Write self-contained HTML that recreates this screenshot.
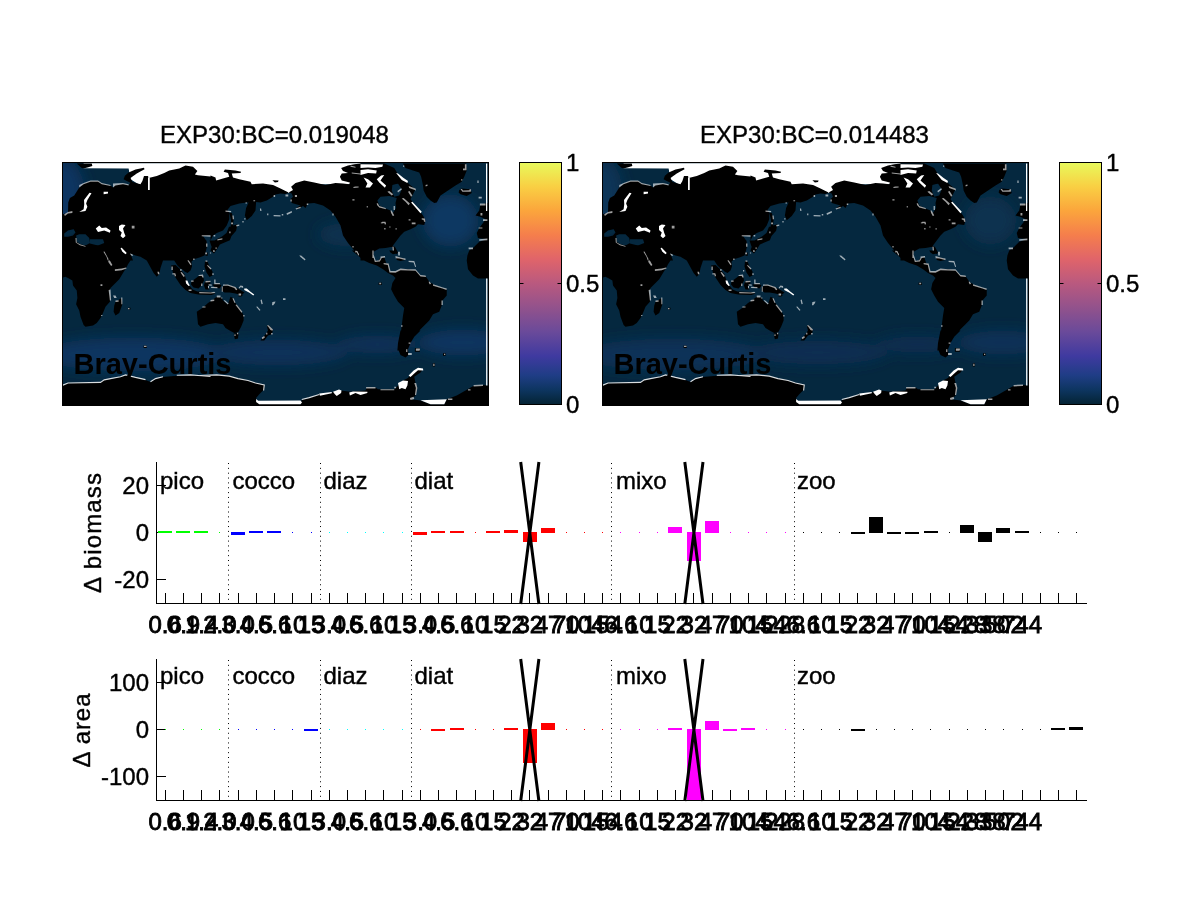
<!DOCTYPE html>
<html lang="en"><head><meta charset="utf-8"><title>EXP30 Bray-Curtis</title>
<style>html,body{margin:0;padding:0;background:#fff}body{width:1200px;height:900px;overflow:hidden;position:relative}svg{position:absolute;left:0;top:0;display:block}text{font-family:"Liberation Sans", Arial, Helvetica, sans-serif;font-size:24px;fill:#000;stroke:#000;stroke-width:0.4px}.xt{stroke-width:0.85px}.b{stroke:none;font-weight:bold;font-size:29.8px}</style></head><body>
<svg width="1200" height="900" viewBox="0 0 1200 900">
<defs>
<linearGradient id="cm" x1="0" y1="0" x2="0" y2="1"><stop offset="0" stop-color="#e8fa5b"/><stop offset="0.1" stop-color="#f9cf43"/><stop offset="0.2" stop-color="#fba53c"/><stop offset="0.3" stop-color="#f57e4c"/><stop offset="0.4" stop-color="#e0646a"/><stop offset="0.5" stop-color="#b9597f"/><stop offset="0.6" stop-color="#92528c"/><stop offset="0.7" stop-color="#6a4a9a"/><stop offset="0.8" stop-color="#3f3aa0"/><stop offset="0.88" stop-color="#1f3d85"/><stop offset="0.94" stop-color="#0d3560"/><stop offset="1" stop-color="#042333"/></linearGradient>
<filter id="bl" x="-30%" y="-30%" width="160%" height="160%"><feGaussianBlur stdDeviation="7"/></filter>
<filter id="bl2" x="-30%" y="-50%" width="160%" height="200%"><feGaussianBlur stdDeviation="4"/></filter>
<clipPath id="mc"><rect x="0" y="0" width="426" height="243"/></clipPath>
<g id="oc1"><rect x="0" y="0" width="426" height="243" fill="#05283f"/><g filter="url(#bl)"><ellipse cx="0" cy="30" rx="22" ry="34" fill="#093662"/><ellipse cx="388" cy="58" rx="28" ry="26" fill="#0a3762"/><ellipse cx="285" cy="72" rx="30" ry="12" fill="#07304f"/><ellipse cx="70" cy="192" rx="95" ry="17" fill="#0a3561"/><ellipse cx="215" cy="190" rx="70" ry="13" fill="#09325a"/><ellipse cx="315" cy="182" rx="40" ry="9" fill="#09325a"/><ellipse cx="400" cy="180" rx="45" ry="13" fill="#0a3560"/></g></g>
<g id="oc2"><rect x="0" y="0" width="426" height="243" fill="#05283f"/><g filter="url(#bl)"><ellipse cx="0" cy="30" rx="20" ry="34" fill="#093459"/><ellipse cx="388" cy="58" rx="26" ry="24" fill="#083050"/><ellipse cx="70" cy="192" rx="95" ry="16" fill="#093258"/><ellipse cx="215" cy="190" rx="70" ry="12" fill="#082f52"/><ellipse cx="315" cy="182" rx="40" ry="8" fill="#082f52"/><ellipse cx="400" cy="180" rx="45" ry="12" fill="#093258"/></g></g>
<path id="mwhite" fill="#fff" d="M21.12 0.75 148 0.75 148 23 85.5 23 78 23 68 16.75 66.12 6 21.12 5.75ZM148 0.75 298 0.75 298 21.75 234.25 21.75 231.75 28 226.12 30.5 215.5 25.75 208 23 148 23Z"/>
<path id="mland" fill="#000" d="M0.5 51.75 5.5 50.25 5.75 39.88 7.38 35.5 11.75 33 16.75 24.88 21.12 21.12 28 18.62 35.5 18.62 39.25 21.12 48 23 50.5 24.88 53 22.38 60.5 21.12 66.12 22.38 68 20.25 64.25 18.62 61.12 16.75 62.38 13.25 66.12 9.88 73 7 81.5 5.25 82 6.75 74.25 11.12 68 15.5 69.88 19.5 78 21.75 79.88 18.62 81.5 13.62 85.5 13.62 86.12 15.5 94.25 13.62 101.75 10.5 106.75 8 116.75 6.12 123 3 130.5 4.25 134.88 8.62 132.38 12 135.5 12.75 148 14 148 73 140.5 73.62 143.62 78 144.25 85.5 140.5 91.12 134.25 94.88 130.5 96.75 128 98 84.25 98 78 94.25 73 93 68 91.12 70.5 98 0.5 98ZM14.25 1.12 29.25 1.12 29.88 3.62 24.88 4.88 21.75 5.75 19.25 5.5ZM148 13 153 14.88 153.62 18 160.5 16.12 166.75 14.25 165.5 10.5 161.12 9.25 162.38 7 173 8 178.62 9.25 178 10.5 169.25 11.12 170.5 14.88 176.75 16.75 188 19.25 189.25 21.75 200.5 21.12 210.5 22.38 218 26.12 223 28.62 226.12 29.88 223 31.5 218 31.12 213 32 210.5 34.25 204.25 38 198 39.88 193.62 39.5 193 48 189.25 53.62 184.25 57.75 182.38 53 183.62 45.5 186.12 39.88 184.25 39.88 176.75 41.12 168 43.62 164.88 47.38 166.75 50.5 166.75 56.75 164.25 63 160.5 68 154.25 70.5 150.5 73 148 78ZM166.75 49.88 169.25 50.5 171.12 56.75 170.5 64.25 168 65.5 168.62 58ZM166.5 64.25 174.88 61.75 173.62 68.25 169 73.62 167.38 77.75 157.38 82 154.88 86.12 151.5 91.12 148 88 151.12 78.62 159.5 74 164 70.5ZM209.88 17.75 216.12 18 215.5 19.5 212.38 19.88ZM226.12 29.88 230.5 27.38 228.62 24.25 233 20.5 241.75 18 251.75 19.88 263 22.38 273 20.5 280.5 21.12 286.75 21.75 287.38 19.88 279.25 18 277.38 14.25 279.25 11.12 285.5 10.5 298 13 298 95.5 291.75 88 285.5 80.5 280.5 73 278 63 273 54.25 268 48 260.5 43 251.75 40.5 245.5 41.12 243 45.5 240.5 43.62 235.5 46.75 234.25 44.88 238 43 229.25 40.5 228 36.75 230.5 34.25 229.25 31.12ZM278.62 5.5 285.5 3 291.75 1.75 298 1.12 298 13.62 285.5 10.5 280.5 8.62ZM298 1.12 321.75 1.12 331.75 5.5 335.5 11.75 341.75 16.75 346.75 21.75 353 26.75 350.5 31.75 348 36.75 351.75 41.75 356.75 48 360.5 53 363 58 361.75 62.38 355.5 61.75 353 64.25 348 66.75 341.75 69.25 338 73 334.25 78 330.5 83 329.88 84.25 323 85.5 316.75 86.12 311.12 89.25 310.5 98 298 98ZM329.25 83.62 332.38 84.25 335.5 89.88 334 91.75 331.12 88.62ZM340.5 1.12 403.62 1.12 404.25 8 401.75 14.25 399.25 19.25 393 23 385.5 28 378 33 374.25 39.88 371.75 40.5 368 38 364.25 34.25 361.12 28 360.5 23 358.62 14.25 356.75 9.88 350.5 8 343 5.5ZM396.75 27.38 399.25 26.12 408 26.75 409.25 30.5 404.25 33.62 398 31.75 396.12 29.88ZM425.5 98 404.25 98 404.88 93 406.75 88 410.5 85.5 416.75 79.25 424.25 76.75 415.5 75.5 414.25 70.5 416.75 65.5 420.5 60.5 423 56.75 418 54.25 413 53 416.75 48 418 41.75 425.5 40.5ZM0.5 98 68 98 65.5 101.75 63.62 105.5 60.5 110.5 56.75 116.75 53 120.5 48 125.5 46.75 129.25 48 135.5 47.38 139.25 43 144.25 40.5 150.5 38 155.5 34.25 160.5 30.5 163 23 164.25 21.12 162.38 18 154.25 16.75 148 13.62 141.75 14.88 135.5 14.25 128 10.5 123 9.88 118 5.5 115.5 3 114.25 0.5 114.88ZM53 139.25 59.25 135.5 59.88 141.75 56.75 150.5 53 153 51.12 149.25 51.75 143ZM100.5 98 98 105.5 96.75 111.75 94.25 114.25 91.12 110.5 84.25 98ZM65.5 145.25 68 145.25 68 147 65.5 147ZM81.12 183 84.25 183 84.25 185.5 81.12 185.5ZM134.25 149.25 140.5 144.88 145.5 140.5 149.25 138 154.25 134.25 159.25 134.88 160.5 138 165.5 141.75 168 134.25 170.5 135.5 173 140.5 178 146.75 181.12 153 181.12 158 178.62 164.25 175.5 169.88 171.75 170.5 168 168.62 163 165.5 160.5 161.75 153 160.5 145.5 161.75 138 164.25 135.5 161.75 134.88 155.5ZM171.12 171.12 176.12 170.5 175.5 176.12 172.38 176.75ZM204.25 163 206.75 163 210.5 167.38 209.25 171.75 205.5 173 201.75 178 198 178 203 171.75 205.5 168ZM178 130.5 179.88 130.5 179.88 133.62 178 133.62ZM103 78 144 78 144.5 84 143 90 142 93 137 95 132 96.5 129 99 129.5 104 128 108 125 110.5 122 109 120 107 118 106 115 103 113 100 111 97 108 95.5 103 96ZM108.5 103 113 102.5 118 107 122 112 124 118 127 123 130 127 136 129.5 136 132 128 130.5 123 127.5 118 122.5 114 116.5 111 112ZM127 127.5 136 129 149 129.5 153 131 149 132.5 136 132 128 130ZM129 119 133 116 137 113 140.5 113 141.5 118 139 123 136 126 131 125 128.5 122ZM142.5 98.5 145 99 147 104 150 109 150 113 147 114.5 144 110 142 104ZM142.5 119 147 118 148 121 145 124 147 127 143 127 141.5 123ZM150 122 156 121 159 123 157 126 152 125ZM159 125 163 122 171 124 177 127 182 130 179 132.5 173 131 167 130 162 130 159 128ZM147 78 166 78 159 80 153 83 151 86 149 84ZM143 90 145.2 90 145.2 93.2 143 93.2ZM176 131 179 131 179 134 176 134ZM328 109.88 333 109.25 338 106.75 345.5 106.75 353 107.38 358 113 363 113.62 366.75 119.25 373 123 380.5 125.5 384.25 126.75 384.25 133 379.88 138 379.25 143 376.75 149.25 370.5 151.75 366.75 158 360.5 164.25 355.5 169.25 351.75 173 348 179.25 345.5 184.25 344.25 188 334.88 188 335.5 180.5 338 173 339.25 163 340.5 153 341.75 145.5 335.5 139.25 331.75 133 328.62 126.75 329.88 120.5 333 115.5 330.5 113ZM289.25 88 310.5 88 310.75 93.62 312.38 98 315.5 98.62 318 95.5 321.75 94.25 323.62 100.5 326.12 101.75 327.38 109.25 333 109.88 330.5 113 325.5 110.5 320.5 106.75 314.25 103 306.75 100.5 300.5 97.38 295.5 93ZM326.75 88 333 88 334.25 91.12 330.5 91.75 328 89.88ZM333.62 94.88 340.5 95.5 343 97.38 338 98.62 334.25 97.38ZM409.25 88 425.5 88 425.5 116.12 415.5 116.12 410.5 113 405.5 106.75 404.25 98 406.75 91.75ZM316.12 119.88 319.25 119.88 319.25 122.38 316.12 122.38ZM0.5 223 5.5 220.75 38 220.12 41.75 217.62 48 216.38 58 214.5 63 212.62 73 215.12 83 217.62 88 219.5 93 216.38 100.5 214.5 114.25 213.25 128 212.62 139.25 213.62 148 214.25 148 243 0.5 243ZM138 213 154.25 212.38 166.75 213.62 175.5 216.12 185.5 218 193 220.5 201.75 222.38 201.75 226.75 196.75 231.75 193.62 235.5 194.88 239.25 238 241.75 239.25 237.38 246.75 235.5 256.75 231.75 269.25 229.88 276.75 227.38 279.25 230.5 288 230.5 288 243 138 243ZM338 168 358 168 351.75 174.25 348 180.5 345.5 186.75 346.12 192.38 343 194.88 338 192.38 336.12 188 335.5 180.5ZM278 228 288 229.25 303 228 304.25 224.88 313 224.88 315.5 226.75 331.75 226.75 336.75 221.75 340.5 218 345.5 215.5 350.5 209.25 355.5 205.5 360.5 206.75 358 209.88 351.75 214.25 353 220.5 354.88 225.5 353 233 349.25 236.75 358 238 368 241.75 381.75 241.75 384.25 236.75 394.25 233 403 228 411.75 223 420.5 222.38 425.5 223 425.5 243 278 243ZM380.5 190.75 383.25 190.75 383.25 193.25 380.5 193.25ZM370.25 200.75 372.5 200.75 372.5 204 370.25 204ZM352.38 185.75 357.38 185.75 357.38 189.25 352.38 189.25Z"/>
<clipPath id="ocl"><path d="M1.75 71.12 5.5 68 11.12 66.75 13 69.88 10.5 73 5.5 74.25 1.75 74.25ZM13.62 73 16.75 71.75 23 71.75 26.75 75.5 27.38 80.5 23 83 18 81.75 14.25 79.25ZM27.38 76.75 40.5 76.75 41.75 80.5 35.5 83 27.38 81.12ZM314.88 38 318 34.25 326.75 33.62 334.25 35.5 333 40.5 333.62 45.5 330.5 50.5 328 48 323 46.12 316.75 43ZM329.88 22.38 335.5 21.12 339.25 26.75 336.75 33 331.75 34.25 329.25 28Z"/></clipPath>
<g id="mspeck"><path fill="#fff" d="M27 30.25 29 30.75 24.88 37.38 23.62 41.12 24.88 44.25 23 48.62 16.75 49.5 21.12 46.75 21.75 41.75 21.5 37.38ZM41.12 29.25 45.5 29.25 45.5 31.12 41.12 31.75ZM33.25 66.12 36.75 63 39.25 65.5 43.62 64.88 48 68 47.38 70.25 41.75 68 35.5 69.5ZM56.5 63.62 59.25 62 63 62.38 60.5 66.12 61.75 70.5 63 73.62 60.5 75.75 58 73.62 59.25 69.88 56.5 67.38ZM58 85.5 59.25 85.25 64.25 90.5 63 91.75 59.88 89.25ZM85.5 14.88 87.25 14.88 87.25 27.38 85.5 27.38ZM298 1.75 320.5 2 319.88 4.25 313 5.5 305.5 4.88 298 5.5ZM298 7.38 305.5 6.75 314.25 8 313.62 11.12 305.5 10.5 298 12.38ZM301.12 14.88 305.5 16.75 310.5 21.12 307.38 24.88 303 24.88 304.88 21.12ZM314.25 16.75 318.62 13 321.75 12.38 318 18 323.62 23 322.38 25.25 316.75 19.88ZM333.62 10.5 335.5 11.12 341.12 15.5 345.5 18.62 344.88 20.5 339.25 17.38ZM348.62 39.88 349.88 39.25 359.25 49.25 358 50.75ZM423.5 1.12 424.75 1.12 424.75 48.62 423.5 48.62ZM123 118 124.88 118 126.12 121.12 127.38 123 126.12 123.62 123.62 121.12ZM181.75 126.12 184.25 126.12 188 129.25 191.75 132 190.75 133 187 130.25 181.75 127.38ZM423.62 116.12 424.88 116.12 424.88 188 423.62 188ZM193.62 236.5 195.75 238.25 238 238 239.5 239.88 238 241.75 196.75 241.75 193.62 239.5ZM270.5 229.25 276.5 227 279 228 278.62 230.5 274.25 233.62 272.38 231.75ZM256.75 231.12 269.25 229.5 269.25 230.75 257.38 233.25ZM358 237.75 384.25 236.75 381.75 241.75 368 241.75ZM335.5 220.5 340.5 218 345.5 218.62 344.88 223 343 226.75 339.25 225.5 336.75 226.75ZM346.12 213 351.12 208 355.5 205.25 360.5 206.12 360.75 208 355.5 207.75 351.75 211.12 348 214.5ZM286.75 229.88 290.5 229 304.88 229.25 304.88 230.5 298 232.38 293 230.5 287.38 233ZM423.62 168 424.88 168 424.88 223 423.62 223Z"/><path fill="#fff" fill-opacity="0.62" d="M69.25 63.25 72 63.25 72 66.12 69.25 66.12ZM40.88 89.25 42 89 46.12 96.75 45.25 98 44 94.25ZM67.38 91.12 69.88 91.75 70.75 93.62 68.62 93ZM16.75 22.38 21.12 20.5 28 18 35.5 18 39.25 20.5 48 22.38 48 23.62 39.25 21.75 35.5 19.25 28 19.25 21.12 21.75 16.75 24.88ZM50.5 21.12 60.5 20.5 66.12 21.75 66.12 23 60.5 21.75 53 23 50.5 24.88ZM13 75.5 14 75.5 14.25 79.88 18 82 23 83.62 23 84.25 17.38 82.75 13.25 79.88ZM1.75 51.75 5.5 49.5 9.88 48.62 9.88 50.5 5.5 51.12 2.38 53.62ZM139.25 72.75 148 72.75 148 74.25 139.25 73.75ZM197.38 46.12 198.62 46.12 199 48.62 197.75 48.62ZM204.62 51.12 205.88 51.12 205.88 52.75 204.62 52.75ZM211.12 52.5 218 52.75 218 54 211.12 53.75ZM219.25 51.5 220.75 51.5 220.75 53 219.25 53ZM224 50.75 229.25 48.62 229.5 49.88 224.5 52.5ZM233 45.88 238 44.25 238.25 45.5 233.62 47ZM244.25 40.88 245.75 40.88 245.75 42.38 244.25 42.38ZM163 48 168.62 48.5 168.62 49.75 163 49.25ZM169.88 53 171.12 53 171.5 56.75 170.25 56.75ZM181.75 55.75 183 55.75 183 57 181.75 57ZM179.88 58.62 181.12 58.62 181.12 60 179.88 60ZM173.62 62.5 176.75 62 176.75 63.25 174 64ZM168.62 59.88 170.5 59.88 170.5 61.75 168.62 61.75ZM166.75 69 168 69 168 70.75 166.75 70.75ZM211.12 32.38 212.62 32.38 212.62 34.5 211.12 34.5ZM223 32 225.75 32 225.75 34 223 34ZM232.38 32.62 234.5 32.62 234.5 34.5 232.38 34.5ZM228 37 229.25 37 229.25 39 228 39ZM190.88 37.75 192.62 37.75 192.62 38.75 190.88 38.75ZM183 39.88 184.5 39.88 184.5 41.12 183 41.12ZM289.88 36.75 292 36.75 292 38 289.88 38ZM290.75 24.5 293 24 296.12 24 296.12 25 291.12 25.5ZM269.88 51.12 271.12 51.12 271.12 53 269.88 53ZM289.88 83.62 291.12 83.62 291.12 85 289.88 85ZM292.75 88.25 294 88.25 294 90 292.75 90ZM295.25 91.12 296.5 91.12 296.5 92.5 295.25 92.5ZM237 93 238.25 93 241.5 95.75 240.5 96.75ZM151.12 72.38 152.75 72.38 152.75 74 151.12 74ZM154.88 76.75 159.88 75.75 159.88 77 154.88 78ZM153 84.88 154.25 84.88 154.25 86.25 153 86.25ZM150.5 87.75 151.75 87.75 151.75 89.25 150.5 89.25ZM288 3 293 4.25 293 5.25 288 4.25ZM289.25 9.88 298 11.12 298 12 289.25 10.88ZM346.12 23.62 353 26.12 353.62 28 346.75 25.5ZM345.5 29.25 347 28.62 349.88 33 348.62 34.25ZM324.88 29.25 326.75 28.62 330.75 31.75 329.25 33ZM334.88 28.62 338.62 25.75 339.5 26.75 335.5 29.88ZM339.25 36.12 341.12 35.5 347.38 41.12 346.12 42.75 343 39.25ZM314.25 40.5 315.5 41.12 316.75 43.62 323 45.5 323.62 46.75 316.75 44.88 314.5 42.38ZM328 48 329.25 48 331.75 53 330.25 53.62 328.62 50.5ZM331.12 43.62 332.38 43.62 332.38 47.38 331.12 47.38ZM346.12 56.75 348 56.75 348 58 346.12 58ZM349.25 59.88 353 59.88 353 61.75 349.25 61.75ZM359.25 55.75 362.38 56.12 363 59.25 361.5 59.25 361.12 57.38 359.25 57ZM318 60.5 319.88 59.25 323 59.25 323.62 61.75 322.38 62 321.75 60.5 319.25 61.12ZM321.75 65.5 323 65.5 323 67 321.75 67ZM326.75 63.88 328 63.88 328 65.12 326.75 65.12ZM333 65.75 334.25 65.75 334.25 67 333 67ZM402.38 1.75 404 1.75 404 7.75 400.5 7.75 400.5 6.12 402.38 6.12ZM398.62 16.75 399.88 16.75 399.88 18 398.62 18ZM363 22.38 364.88 22 365.12 23.25 363.25 23.88ZM398 26.5 399.5 26.5 400.5 28 406.75 27.75 407.38 26.5 408.62 27 408.25 29.25 399.88 29.25ZM414.88 18 416.12 18 416.12 20.5 414.88 20.5ZM416.12 34.25 419.25 34.25 419.25 36.12 416.12 36.12ZM417.38 41.12 423 41.12 423 43 417.38 43ZM418 50.5 419.88 50.5 419.88 53 418 53ZM420.5 56.75 424.88 56.75 424.88 58.62 420.5 58.62ZM416.12 64.88 419.88 64.88 419.88 66.12 416.12 66.12ZM416.75 76.75 424.88 76.12 424.88 77.75 416.75 78.25ZM406.12 84.88 410.5 84.88 410.5 86.75 406.12 86.75ZM304.25 43.62 305.25 43.62 305.25 44.88 304.25 44.88ZM340.5 3 341.75 3 341.75 4.25 340.5 4.25ZM329.88 84.25 331.12 84.25 331.5 88 330.25 88ZM335.5 89.25 336.75 89.25 337 93 335.75 93ZM309.88 88 311.12 88 311.12 95.5 309.88 95.5ZM318 94 322.38 93.62 322.38 94.88 318 95.25ZM333 93.62 338 94.88 342.38 96.12 342.38 97.38 333 94.88ZM45.5 98 47.38 98 49.88 102.38 48.62 103.62 46.12 99.88ZM52.38 106.75 59.25 106.12 63.62 104.88 64 106.12 59.25 107.75 52.38 108.62ZM46.12 127.38 48 127 48.62 138 47.38 138ZM50.5 133 53 133 54.25 135.5 51.75 135.5ZM58.62 134.88 59.88 134.88 59.88 141.75 58.88 141.75ZM53 138 56.12 137.75 56.12 139.25 53 139.5ZM65.5 145.5 67 145.5 67 146.75 65.5 146.75ZM38 121.75 39.88 121.75 39.88 123.62 38 123.62ZM38.62 152.38 39.88 152.38 39.88 153.62 38.62 153.62ZM81.5 183.25 84 183.25 84 184.5 81.5 184.5ZM94.88 109.25 96.5 109.25 97 111.75 95.5 111.75ZM143.62 81.12 144.88 81.12 144.88 84.25 143.62 84.25ZM142.75 89.88 144.5 89.88 144.5 91.75 142.75 91.75ZM147.38 89.88 148.62 89.88 148.62 91.12 147.38 91.12ZM151.12 88 152.38 88 152.38 89.25 151.12 89.25ZM153 84.88 154.25 84.88 154.25 86.12 153 86.12ZM124.88 98 126.12 97.75 129 101.75 128 102.75ZM130.75 96.12 132 96.12 132 97.38 130.75 97.38ZM109 104 110.25 104 110.25 107.38 109 107.38ZM109.88 110.75 112.75 110.75 113.62 113.62 112.38 114 111.75 112 109.88 112ZM117.75 106.5 119 106.5 119 108.62 117.75 108.62ZM118 109.88 119.25 109.5 122.38 113.62 121.12 114.5ZM126.12 127 129 127 129 128.62 126.12 128.62ZM128.62 118 131.12 118 131.12 119.25 128.62 119.25ZM136.12 112.38 140.5 112 141.12 114.88 139.88 114.88 139.25 113.38 136.12 113.62ZM138.62 121.12 139.88 121.12 139.88 123.62 138.62 123.62ZM140.5 107.38 141.75 107.38 141.75 109 140.5 109ZM143 98 144.88 98 144.88 99.25 143 99.25ZM144.25 102.75 145.5 102.75 149 106.12 148 107ZM149.88 110.75 151.12 110.75 151.12 112.38 149.88 112.38ZM143 118.62 148 118.25 148 119.5 143 119.88ZM151.75 117 153 117 153 120.5 157.38 120.5 157.38 121.75 151.75 121.75ZM146.12 121.75 149.25 122 149.25 123.25 146.12 123ZM148.62 124.25 154.88 124.5 154.88 125.75 148.62 125.5ZM145.5 123.62 146.5 123.62 146.5 125.75 145.5 125.75ZM136.75 129.62 148 129.88 151.75 129.25 153 130.5 148 131 136.75 130.75ZM159.25 124 160.25 124 160.25 129.25 159.25 129.25ZM160.5 122 165.5 122 173 124.5 174.88 127 173.62 127.75 171.75 125.5 165.5 123.25 160.5 123.25ZM176.12 125.25 178 123 180.5 123.62 180.75 125.25 179.25 125.25 178.62 124.25 177 126.12ZM176.12 131.12 178.62 131.12 178.62 133 176.12 133ZM154.25 133 158 133 158 134.88 154.25 134.88ZM158.62 134.88 159.88 134.88 159.88 136.12 158.62 136.12ZM148 137.38 151.75 137 151.75 138.62 148 139ZM139.88 143.88 143 143.88 143 145.12 139.88 145.12ZM161.12 138 162.38 137.75 166.12 141.12 165.25 142ZM169.88 135.75 171.12 135.75 173 139.88 172 140.5ZM173 142.38 174.25 142 179.88 149.25 179 150.25ZM180.75 152.38 182 152.38 182 154 180.75 154ZM198 137.38 199.25 137 200.25 141.5 199 141.75ZM193.62 144.25 194.88 143.88 198 147.38 197 148.25ZM209.88 139.5 213 139 212.38 140.75 210.5 143 209.5 142.38ZM220.5 135.75 223 135.75 223 137.38 220.5 137.38ZM236.75 93 238.62 93 243 96.75 242.38 98 238 94.5ZM204.25 163 206.12 162.75 210.5 167 209.88 168.25 208 167.38 205.75 164.25ZM208.62 170.5 210.12 170.5 210.12 172 208.62 172ZM203.62 170.25 204.88 170.25 204.88 172 203.62 172ZM199.25 174.88 201.75 173.62 202.38 174.88 199.88 176.75ZM171.75 172 173.25 172 173.25 173.25 171.75 173.25ZM174.5 170.25 175.75 170.25 175.75 171.75 174.5 171.75ZM293.62 88.62 294.88 88.62 296.75 92.38 295.75 93ZM310.25 92.38 311.25 92.38 313.25 98.25 316.75 97.75 318.62 94.5 322.38 93.75 322.75 94.88 319.25 95.5 317.38 99 312.38 99.5ZM321.12 100.5 326.12 101.12 328 108.62 333 108.62 338 106.12 345.5 106.75 353 106.75 358 112.38 363 113 363.62 114.5 358 114 353 108.25 345.5 108 338 107.75 333 110.25 327 109.88 325.25 102.38 321.12 101.75ZM366.12 119.25 367.38 119.25 368.62 121.5 367 121.75ZM370.5 121.75 373 122.38 380.5 124.88 384.25 126.12 384 127.38 379.88 126.12 370.5 123.25ZM379 138 380.25 138 380.25 142.38 379 142.38ZM336.12 89.25 337.38 89.25 337.38 93 336.12 93ZM333 94.25 336.75 94.88 343 96.12 343 97.38 336.75 96.12 333 95.75ZM346.12 98.25 351.75 98.62 353.62 104.25 352.62 104.5 351.12 99.88 346.12 99.5ZM316.75 120.25 318.62 120.25 318.62 121.75 316.75 121.75ZM338.62 162.75 340 162.75 340 164.25 338.62 164.25ZM346.12 179.88 348 179.88 348 181.25 346.12 181.25ZM353.62 186.12 357.38 186.12 357.38 188 353.62 188ZM351.75 220.5 353.62 220.5 354.88 225.5 353.62 232.38 352.38 232.38 353.38 225.5ZM347.38 235.5 351.12 234.25 351.75 236.5 348 237.38ZM303.62 224.5 313 224.5 313 226.12 303.62 226.12ZM318 226.75 331.75 226.75 331.75 227.75 318 227.75ZM331.75 224.25 333.62 224.25 333.62 225.75 331.75 225.75ZM411.12 222.38 420.5 222 420.5 223.62 411.12 223.88ZM405.5 226.75 408 226.75 408 228 405.5 228ZM385.5 236.12 389.88 236.12 389.88 237.38 385.5 237.38ZM353.38 186.38 356.75 186.38 356.75 188.25 353.38 188.25ZM346.12 179.88 348 179.88 348 181.12 346.12 181.12ZM345.5 190.5 349.25 190.5 349.25 192.38 345.5 192.38ZM381.5 191.25 382.75 191.25 382.75 192.5 381.5 192.5ZM370.75 201.25 372 201.25 372 203.5 370.75 203.5ZM343.62 186.75 344.88 186.75 344.88 189.5 343.62 189.5Z"/></g>
<path id="mlines" fill="none" stroke="#fff" stroke-opacity="0.85" stroke-width="1.1" d="M0.5 222.62 5.5 220.5 38 219.88 41.75 217.38 48 216.12 58 214.25 63 212.38 73 214.88 83 217.12M88 219.25 93 216.12 100.5 214.25M114.25 212.75 128 212.38 139.25 213.25 148 214M138 213 154.25 212.38 166.75 213.62 175.5 216.12 185.5 218 193 220.5 201.75 222.38 201.12 228M239.25 237 246.75 235.12 256.75 232"/>
</defs>
<g transform="translate(62.5,162.5)"><g clip-path="url(#mc)">
<use href="#oc1"/>
<use href="#mwhite"/><use href="#mland"/>
<g clip-path="url(#ocl)"><use href="#oc1"/></g>
<use href="#mspeck"/><use href="#mlines"/>
<text class="b" x="11.0" y="211.4" textLength="158" lengthAdjust="spacingAndGlyphs">Bray-Curtis</text>
</g><rect x="0" y="0" width="426" height="243" fill="none" stroke="#000" stroke-width="1"/></g>
<text x="274.5" y="143" text-anchor="middle">EXP30:BC=0.019048</text>
<g transform="translate(602.5,162.5)"><g clip-path="url(#mc)">
<use href="#oc2"/>
<use href="#mwhite"/><use href="#mland"/>
<g clip-path="url(#ocl)"><use href="#oc2"/></g>
<use href="#mspeck"/><use href="#mlines"/>
<text class="b" x="11.0" y="211.4" textLength="158" lengthAdjust="spacingAndGlyphs">Bray-Curtis</text>
</g><rect x="0" y="0" width="426" height="243" fill="none" stroke="#000" stroke-width="1"/></g>
<text x="814.5" y="143" text-anchor="middle">EXP30:BC=0.014483</text>
<rect x="519.5" y="162.5" width="42" height="242" fill="url(#cm)" stroke="#000" stroke-width="1"/>
<path d="M519.5 283.5h4M561.5 283.5h-4" stroke="#000" stroke-width="1" fill="none"/>
<text x="566.0" y="171.0">1</text>
<text x="566.0" y="292.0">0.5</text>
<text x="566.0" y="413.0">0</text>
<rect x="1059.5" y="162.5" width="42" height="242" fill="url(#cm)" stroke="#000" stroke-width="1"/>
<path d="M1059.5 283.5h4M1101.5 283.5h-4" stroke="#000" stroke-width="1" fill="none"/>
<text x="1106.0" y="171.0">1</text>
<text x="1106.0" y="292.0">0.5</text>
<text x="1106.0" y="413.0">0</text>
<path d="M228.5 463V603" stroke="#000" stroke-width="1" stroke-dasharray="1 3.85" fill="none"/>
<path d="M320.5 463V603" stroke="#000" stroke-width="1" stroke-dasharray="1 3.85" fill="none"/>
<path d="M411.5 463V603" stroke="#000" stroke-width="1" stroke-dasharray="1 3.85" fill="none"/>
<path d="M611.5 463V603" stroke="#000" stroke-width="1" stroke-dasharray="1 3.85" fill="none"/>
<path d="M794.5 463V603" stroke="#000" stroke-width="1" stroke-dasharray="1 3.85" fill="none"/>
<path d="M156.5 462V604M156 603.5H1087M165.5 603v-10M183.5 603v-10M201.5 603v-10M219.5 603v-10M238.5 603v-10M256.5 603v-10M274.5 603v-10M292.5 603v-10M311.5 603v-10M329.5 603v-10M347.5 603v-10M365.5 603v-10M383.5 603v-10M402.5 603v-10M420.5 603v-10M438.5 603v-10M456.5 603v-10M475.5 603v-10M493.5 603v-10M511.5 603v-10M529.5 603v-10M548.5 603v-10M566.5 603v-10M584.5 603v-10M602.5 603v-10M620.5 603v-10M639.5 603v-10M657.5 603v-10M675.5 603v-10M693.5 603v-10M712.5 603v-10M730.5 603v-10M748.5 603v-10M766.5 603v-10M785.5 603v-10M803.5 603v-10M821.5 603v-10M839.5 603v-10M857.5 603v-10M876.5 603v-10M894.5 603v-10M912.5 603v-10M930.5 603v-10M949.5 603v-10M967.5 603v-10M985.5 603v-10M1003.5 603v-10M1022.5 603v-10M1040.5 603v-10M1058.5 603v-10M1076.5 603v-10M157 485.5h9M157 532.5h9M157 579.5h9" stroke="#000" stroke-width="1" fill="none" shape-rendering="crispEdges"/>
<rect x="158" y="531" width="14" height="2" fill="#00ff00"/>
<rect x="176" y="531" width="14" height="2" fill="#00ff00"/>
<rect x="194" y="531" width="14" height="2" fill="#00ff00"/>
<rect x="219" y="532" width="1" height="1" fill="#00ff00"/>
<rect x="231" y="532" width="14" height="3" fill="#0000ff"/>
<rect x="249" y="531" width="14" height="2" fill="#0000ff"/>
<rect x="267" y="531" width="14" height="2" fill="#0000ff"/>
<rect x="292" y="532" width="1" height="1" fill="#0000ff"/>
<rect x="311" y="532" width="1" height="1" fill="#0000ff"/>
<rect x="329" y="532" width="1" height="1" fill="#00ffff"/>
<rect x="347" y="532" width="1" height="1" fill="#00ffff"/>
<rect x="365" y="532" width="1" height="1" fill="#00ffff"/>
<rect x="383" y="532" width="1" height="1" fill="#00ffff"/>
<rect x="402" y="532" width="1" height="1" fill="#00ffff"/>
<rect x="413" y="532" width="14" height="3" fill="#ff0000"/>
<rect x="431" y="531" width="14" height="2" fill="#ff0000"/>
<rect x="450" y="531" width="14" height="2" fill="#ff0000"/>
<rect x="475" y="532" width="1" height="1" fill="#ff0000"/>
<rect x="486" y="531" width="14" height="2" fill="#ff0000"/>
<rect x="504" y="530" width="14" height="3" fill="#ff0000"/>
<rect x="523" y="532" width="14" height="10" fill="#ff0000"/>
<rect x="541" y="528" width="14" height="5" fill="#ff0000"/>
<rect x="566" y="532" width="1" height="1" fill="#ff0000"/>
<rect x="584" y="532" width="1" height="1" fill="#ff0000"/>
<rect x="602" y="532" width="1" height="1" fill="#ff0000"/>
<rect x="620" y="532" width="1" height="1" fill="#ff00ff"/>
<rect x="639" y="532" width="1" height="1" fill="#ff00ff"/>
<rect x="657" y="532" width="1" height="1" fill="#ff00ff"/>
<rect x="668" y="527" width="14" height="6" fill="#ff00ff"/>
<rect x="687" y="532" width="14" height="29" fill="#ff00ff"/>
<rect x="705" y="521" width="14" height="12" fill="#ff00ff"/>
<rect x="730" y="532" width="1" height="1" fill="#ff00ff"/>
<rect x="748" y="532" width="1" height="1" fill="#ff00ff"/>
<rect x="766" y="532" width="1" height="1" fill="#ff00ff"/>
<rect x="785" y="532" width="1" height="1" fill="#ff00ff"/>
<rect x="803" y="532" width="1" height="1" fill="#000000"/>
<rect x="821" y="532" width="1" height="1" fill="#000000"/>
<rect x="839" y="532" width="1" height="1" fill="#000000"/>
<rect x="851" y="532" width="14" height="2" fill="#000000"/>
<rect x="869" y="517" width="14" height="16" fill="#000000"/>
<rect x="887" y="532" width="14" height="2" fill="#000000"/>
<rect x="905" y="532" width="14" height="2" fill="#000000"/>
<rect x="924" y="531" width="14" height="2" fill="#000000"/>
<rect x="949" y="532" width="1" height="1" fill="#000000"/>
<rect x="960" y="525" width="14" height="8" fill="#000000"/>
<rect x="978" y="532" width="14" height="10" fill="#000000"/>
<rect x="996" y="528" width="14" height="5" fill="#000000"/>
<rect x="1015" y="531" width="14" height="2" fill="#000000"/>
<rect x="1040" y="532" width="1" height="1" fill="#000000"/>
<rect x="1058" y="532" width="1" height="1" fill="#000000"/>
<rect x="1076" y="532" width="1" height="1" fill="#000000"/>
<path d="M520.7 462L538.9 604M538.9 462L520.7 604" stroke="#000" stroke-width="3" fill="none"/>
<path d="M684.8 462L703.0 604M703.0 462L684.8 604" stroke="#000" stroke-width="3" fill="none"/>
<text x="149" y="494.0" text-anchor="end">20</text>
<text x="149" y="541.0" text-anchor="end">0</text>
<text x="149" y="588.0" text-anchor="end">-20</text>
<text class="xt" x="165.2" y="632.5" text-anchor="middle">0.6</text>
<text class="xt" x="183.5" y="632.5" text-anchor="middle">0.9</text>
<text class="xt" x="201.7" y="632.5" text-anchor="middle">1.4</text>
<text class="xt" x="219.9" y="632.5" text-anchor="middle">2.0</text>
<text class="xt" x="238.2" y="632.5" text-anchor="middle">3.0</text>
<text class="xt" x="256.4" y="632.5" text-anchor="middle">4.5</text>
<text class="xt" x="274.6" y="632.5" text-anchor="middle">6.6</text>
<text class="xt" x="292.9" y="632.5" text-anchor="middle">10</text>
<text class="xt" x="311.1" y="632.5" text-anchor="middle">15</text>
<text class="xt" x="329.3" y="632.5" text-anchor="middle">3.0</text>
<text class="xt" x="347.5" y="632.5" text-anchor="middle">4.5</text>
<text class="xt" x="365.8" y="632.5" text-anchor="middle">6.6</text>
<text class="xt" x="384.0" y="632.5" text-anchor="middle">10</text>
<text class="xt" x="402.2" y="632.5" text-anchor="middle">15</text>
<text class="xt" x="420.5" y="632.5" text-anchor="middle">3.0</text>
<text class="xt" x="438.7" y="632.5" text-anchor="middle">4.5</text>
<text class="xt" x="456.9" y="632.5" text-anchor="middle">6.6</text>
<text class="xt" x="475.1" y="632.5" text-anchor="middle">10</text>
<text class="xt" x="493.4" y="632.5" text-anchor="middle">15</text>
<text class="xt" x="511.6" y="632.5" text-anchor="middle">22</text>
<text class="xt" x="529.8" y="632.5" text-anchor="middle">32</text>
<text class="xt" x="548.1" y="632.5" text-anchor="middle">47</text>
<text class="xt" x="566.3" y="632.5" text-anchor="middle">70</text>
<text class="xt" x="584.5" y="632.5" text-anchor="middle">104</text>
<text class="xt" x="602.7" y="632.5" text-anchor="middle">154</text>
<text class="xt" x="621.0" y="632.5" text-anchor="middle">6.6</text>
<text class="xt" x="639.2" y="632.5" text-anchor="middle">10</text>
<text class="xt" x="657.4" y="632.5" text-anchor="middle">15</text>
<text class="xt" x="675.7" y="632.5" text-anchor="middle">22</text>
<text class="xt" x="693.9" y="632.5" text-anchor="middle">32</text>
<text class="xt" x="712.1" y="632.5" text-anchor="middle">47</text>
<text class="xt" x="730.3" y="632.5" text-anchor="middle">70</text>
<text class="xt" x="748.6" y="632.5" text-anchor="middle">104</text>
<text class="xt" x="766.8" y="632.5" text-anchor="middle">154</text>
<text class="xt" x="785.0" y="632.5" text-anchor="middle">228</text>
<text class="xt" x="803.3" y="632.5" text-anchor="middle">6.6</text>
<text class="xt" x="821.5" y="632.5" text-anchor="middle">10</text>
<text class="xt" x="839.7" y="632.5" text-anchor="middle">15</text>
<text class="xt" x="858.0" y="632.5" text-anchor="middle">22</text>
<text class="xt" x="876.2" y="632.5" text-anchor="middle">32</text>
<text class="xt" x="894.4" y="632.5" text-anchor="middle">47</text>
<text class="xt" x="912.6" y="632.5" text-anchor="middle">70</text>
<text class="xt" x="930.9" y="632.5" text-anchor="middle">104</text>
<text class="xt" x="949.1" y="632.5" text-anchor="middle">154</text>
<text class="xt" x="967.3" y="632.5" text-anchor="middle">228</text>
<text class="xt" x="985.6" y="632.5" text-anchor="middle">338</text>
<text class="xt" x="1003.8" y="632.5" text-anchor="middle">502</text>
<text class="xt" x="1022.0" y="632.5" text-anchor="middle">744</text>
<text x="160" y="488.5">pico</text>
<text x="232.5" y="488.5">cocco</text>
<text x="323.5" y="488.5">diaz</text>
<text x="414.5" y="488.5">diat</text>
<text x="616" y="488.5">mixo</text>
<text x="797" y="488.5">zoo</text>
<text transform="translate(101,533) rotate(-90)" text-anchor="middle" textLength="120" lengthAdjust="spacing">Δ biomass</text>
<path d="M228.5 660V800" stroke="#000" stroke-width="1" stroke-dasharray="1 3.85" fill="none"/>
<path d="M320.5 660V800" stroke="#000" stroke-width="1" stroke-dasharray="1 3.85" fill="none"/>
<path d="M411.5 660V800" stroke="#000" stroke-width="1" stroke-dasharray="1 3.85" fill="none"/>
<path d="M611.5 660V800" stroke="#000" stroke-width="1" stroke-dasharray="1 3.85" fill="none"/>
<path d="M794.5 660V800" stroke="#000" stroke-width="1" stroke-dasharray="1 3.85" fill="none"/>
<path d="M156.5 659V801M156 800.5H1087M165.5 800v-10M183.5 800v-10M201.5 800v-10M219.5 800v-10M238.5 800v-10M256.5 800v-10M274.5 800v-10M292.5 800v-10M311.5 800v-10M329.5 800v-10M347.5 800v-10M365.5 800v-10M383.5 800v-10M402.5 800v-10M420.5 800v-10M438.5 800v-10M456.5 800v-10M475.5 800v-10M493.5 800v-10M511.5 800v-10M529.5 800v-10M548.5 800v-10M566.5 800v-10M584.5 800v-10M602.5 800v-10M620.5 800v-10M639.5 800v-10M657.5 800v-10M675.5 800v-10M693.5 800v-10M712.5 800v-10M730.5 800v-10M748.5 800v-10M766.5 800v-10M785.5 800v-10M803.5 800v-10M821.5 800v-10M839.5 800v-10M857.5 800v-10M876.5 800v-10M894.5 800v-10M912.5 800v-10M930.5 800v-10M949.5 800v-10M967.5 800v-10M985.5 800v-10M1003.5 800v-10M1022.5 800v-10M1040.5 800v-10M1058.5 800v-10M1076.5 800v-10M157 682.5h9M157 729.5h9M157 776.5h9" stroke="#000" stroke-width="1" fill="none" shape-rendering="crispEdges"/>
<rect x="165" y="729" width="1" height="1" fill="#00ff00"/>
<rect x="183" y="729" width="1" height="1" fill="#00ff00"/>
<rect x="201" y="729" width="1" height="1" fill="#00ff00"/>
<rect x="219" y="729" width="1" height="1" fill="#00ff00"/>
<rect x="238" y="729" width="1" height="1" fill="#0000ff"/>
<rect x="256" y="729" width="1" height="1" fill="#0000ff"/>
<rect x="274" y="729" width="1" height="1" fill="#0000ff"/>
<rect x="292" y="729" width="1" height="1" fill="#0000ff"/>
<rect x="304" y="729" width="14" height="2" fill="#0000ff"/>
<rect x="329" y="729" width="1" height="1" fill="#00ffff"/>
<rect x="347" y="729" width="1" height="1" fill="#00ffff"/>
<rect x="365" y="729" width="1" height="1" fill="#00ffff"/>
<rect x="383" y="729" width="1" height="1" fill="#00ffff"/>
<rect x="402" y="729" width="1" height="1" fill="#00ffff"/>
<rect x="420" y="729" width="1" height="1" fill="#ff0000"/>
<rect x="431" y="729" width="14" height="2" fill="#ff0000"/>
<rect x="450" y="728" width="14" height="2" fill="#ff0000"/>
<rect x="475" y="729" width="1" height="1" fill="#ff0000"/>
<rect x="493" y="729" width="1" height="1" fill="#ff0000"/>
<rect x="504" y="728" width="14" height="2" fill="#ff0000"/>
<rect x="523" y="729" width="14" height="34" fill="#ff0000"/>
<rect x="541" y="723" width="14" height="7" fill="#ff0000"/>
<rect x="566" y="729" width="1" height="1" fill="#ff0000"/>
<rect x="584" y="729" width="1" height="1" fill="#ff0000"/>
<rect x="602" y="729" width="1" height="1" fill="#ff0000"/>
<rect x="620" y="729" width="1" height="1" fill="#ff00ff"/>
<rect x="639" y="729" width="1" height="1" fill="#ff00ff"/>
<rect x="657" y="729" width="1" height="1" fill="#ff00ff"/>
<rect x="668" y="728" width="14" height="2" fill="#ff00ff"/>
<rect x="687" y="729" width="14" height="71" fill="#ff00ff"/>
<rect x="705" y="721" width="14" height="9" fill="#ff00ff"/>
<rect x="723" y="729" width="14" height="2" fill="#ff00ff"/>
<rect x="741" y="728" width="14" height="2" fill="#ff00ff"/>
<rect x="766" y="729" width="1" height="1" fill="#ff00ff"/>
<rect x="785" y="729" width="1" height="1" fill="#ff00ff"/>
<rect x="803" y="729" width="1" height="1" fill="#000000"/>
<rect x="821" y="729" width="1" height="1" fill="#000000"/>
<rect x="839" y="729" width="1" height="1" fill="#000000"/>
<rect x="851" y="729" width="14" height="2" fill="#000000"/>
<rect x="876" y="729" width="1" height="1" fill="#000000"/>
<rect x="894" y="729" width="1" height="1" fill="#000000"/>
<rect x="912" y="729" width="1" height="1" fill="#000000"/>
<rect x="930" y="729" width="1" height="1" fill="#000000"/>
<rect x="949" y="729" width="1" height="1" fill="#000000"/>
<rect x="967" y="729" width="1" height="1" fill="#000000"/>
<rect x="985" y="729" width="1" height="1" fill="#000000"/>
<rect x="1003" y="729" width="1" height="1" fill="#000000"/>
<rect x="1022" y="729" width="1" height="1" fill="#000000"/>
<rect x="1040" y="729" width="1" height="1" fill="#000000"/>
<rect x="1051" y="728" width="14" height="2" fill="#000000"/>
<rect x="1069" y="727" width="14" height="3" fill="#000000"/>
<path d="M520.7 659L538.9 801M538.9 659L520.7 801" stroke="#000" stroke-width="3" fill="none"/>
<path d="M684.8 659L703.0 801M703.0 659L684.8 801" stroke="#000" stroke-width="3" fill="none"/>
<text x="149" y="691.0" text-anchor="end">100</text>
<text x="149" y="738.0" text-anchor="end">0</text>
<text x="149" y="785.0" text-anchor="end">-100</text>
<text class="xt" x="165.2" y="829.5" text-anchor="middle">0.6</text>
<text class="xt" x="183.5" y="829.5" text-anchor="middle">0.9</text>
<text class="xt" x="201.7" y="829.5" text-anchor="middle">1.4</text>
<text class="xt" x="219.9" y="829.5" text-anchor="middle">2.0</text>
<text class="xt" x="238.2" y="829.5" text-anchor="middle">3.0</text>
<text class="xt" x="256.4" y="829.5" text-anchor="middle">4.5</text>
<text class="xt" x="274.6" y="829.5" text-anchor="middle">6.6</text>
<text class="xt" x="292.9" y="829.5" text-anchor="middle">10</text>
<text class="xt" x="311.1" y="829.5" text-anchor="middle">15</text>
<text class="xt" x="329.3" y="829.5" text-anchor="middle">3.0</text>
<text class="xt" x="347.5" y="829.5" text-anchor="middle">4.5</text>
<text class="xt" x="365.8" y="829.5" text-anchor="middle">6.6</text>
<text class="xt" x="384.0" y="829.5" text-anchor="middle">10</text>
<text class="xt" x="402.2" y="829.5" text-anchor="middle">15</text>
<text class="xt" x="420.5" y="829.5" text-anchor="middle">3.0</text>
<text class="xt" x="438.7" y="829.5" text-anchor="middle">4.5</text>
<text class="xt" x="456.9" y="829.5" text-anchor="middle">6.6</text>
<text class="xt" x="475.1" y="829.5" text-anchor="middle">10</text>
<text class="xt" x="493.4" y="829.5" text-anchor="middle">15</text>
<text class="xt" x="511.6" y="829.5" text-anchor="middle">22</text>
<text class="xt" x="529.8" y="829.5" text-anchor="middle">32</text>
<text class="xt" x="548.1" y="829.5" text-anchor="middle">47</text>
<text class="xt" x="566.3" y="829.5" text-anchor="middle">70</text>
<text class="xt" x="584.5" y="829.5" text-anchor="middle">104</text>
<text class="xt" x="602.7" y="829.5" text-anchor="middle">154</text>
<text class="xt" x="621.0" y="829.5" text-anchor="middle">6.6</text>
<text class="xt" x="639.2" y="829.5" text-anchor="middle">10</text>
<text class="xt" x="657.4" y="829.5" text-anchor="middle">15</text>
<text class="xt" x="675.7" y="829.5" text-anchor="middle">22</text>
<text class="xt" x="693.9" y="829.5" text-anchor="middle">32</text>
<text class="xt" x="712.1" y="829.5" text-anchor="middle">47</text>
<text class="xt" x="730.3" y="829.5" text-anchor="middle">70</text>
<text class="xt" x="748.6" y="829.5" text-anchor="middle">104</text>
<text class="xt" x="766.8" y="829.5" text-anchor="middle">154</text>
<text class="xt" x="785.0" y="829.5" text-anchor="middle">228</text>
<text class="xt" x="803.3" y="829.5" text-anchor="middle">6.6</text>
<text class="xt" x="821.5" y="829.5" text-anchor="middle">10</text>
<text class="xt" x="839.7" y="829.5" text-anchor="middle">15</text>
<text class="xt" x="858.0" y="829.5" text-anchor="middle">22</text>
<text class="xt" x="876.2" y="829.5" text-anchor="middle">32</text>
<text class="xt" x="894.4" y="829.5" text-anchor="middle">47</text>
<text class="xt" x="912.6" y="829.5" text-anchor="middle">70</text>
<text class="xt" x="930.9" y="829.5" text-anchor="middle">104</text>
<text class="xt" x="949.1" y="829.5" text-anchor="middle">154</text>
<text class="xt" x="967.3" y="829.5" text-anchor="middle">228</text>
<text class="xt" x="985.6" y="829.5" text-anchor="middle">338</text>
<text class="xt" x="1003.8" y="829.5" text-anchor="middle">502</text>
<text class="xt" x="1022.0" y="829.5" text-anchor="middle">744</text>
<text x="160" y="683.5">pico</text>
<text x="232.5" y="683.5">cocco</text>
<text x="323.5" y="683.5">diaz</text>
<text x="414.5" y="683.5">diat</text>
<text x="616" y="683.5">mixo</text>
<text x="797" y="683.5">zoo</text>
<text transform="translate(90,730.5) rotate(-90)" text-anchor="middle" textLength="74" lengthAdjust="spacing">Δ area</text>
</svg></body></html>
